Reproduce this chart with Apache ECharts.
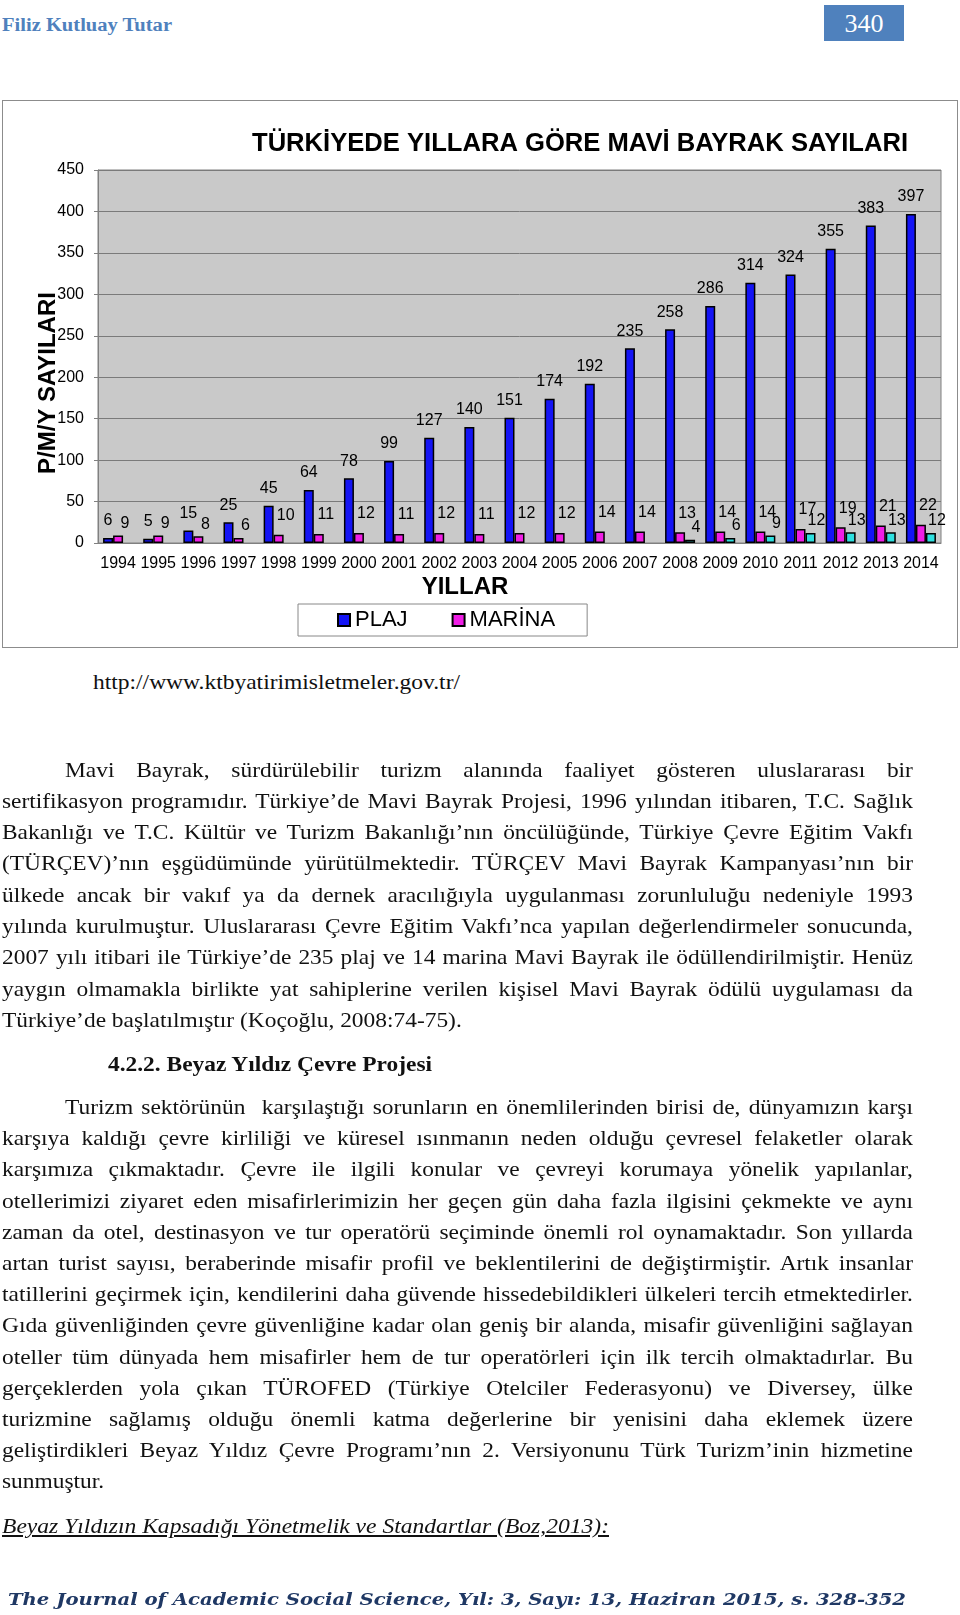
<!DOCTYPE html>
<html><head><meta charset="utf-8">
<script src="https://cdn.jsdelivr.net/npm/echarts@6/dist/echarts.min.js"></script>
<style>
html,body{margin:0;padding:0;background:#fff;}
body{width:960px;height:1615px;position:relative;overflow:hidden;}
.abs{position:absolute;white-space:nowrap;}
#hdr{left:2px;top:16px;font:bold 18.5px/18.5px 'Liberation Serif',serif;color:#4f81bd;}
#pg{left:824px;top:5px;width:80px;height:36px;background:#4f81bd;}
#pgt{position:absolute;left:0;top:0;width:80px;text-align:center;font:26px/37px 'Liberation Serif',serif;color:#fff;}
#chart{position:absolute;left:2px;top:100px;width:956px;height:548px;box-sizing:border-box;border:1px solid #8c8c8c;}
#body{position:absolute;left:2px;top:0;width:817px;height:1615px;transform:scaleX(1.115);transform-origin:0 0;font-family:'Liberation Serif',serif;font-size:21px;color:#111;}
.ln{position:absolute;left:0;width:817px;height:31px;line-height:31px;white-space:pre;text-align:justify;text-align-last:justify;}
.last{text-align-last:left;}
#head{font-weight:bold;}
#ital{left:2px;top:1516px;font:italic 21px/21px 'Liberation Serif',serif;color:#111;text-decoration:underline;}
#foot{left:8px;top:1591px;font:italic bold 17px/17px 'DejaVu Serif',serif;color:#1f3864;}
#url{left:93px;top:672px;font:21px/21px 'Liberation Serif',serif;color:#111;}
</style></head>
<body>
<div id="hdr" class="abs" data-fit="170">Filiz Kutluay Tutar</div>
<div id="pg" class="abs"><div id="pgt">340</div></div>
<div id="chart"></div>
<div id="url" class="abs" data-fit="367">http://www.ktbyatirimisletmeler.gov.tr/</div>
<div id="body"></div>
<div id="ital" class="abs" data-fit="607">Beyaz Yıldızın Kapsadığı Yönetmelik ve Standartlar (Boz,2013):</div>
<div id="foot" class="abs" data-fit="898">The Journal of Academic Social Science, Yıl: 3, Sayı: 13, Haziran 2015, s. 328-352</div>
<script>
// ---- chart data ----
const years = ['1994','1995','1996','1997','1998','1999','2000','2001','2002','2003','2004','2005','2006','2007','2008','2009','2010','2011','2012','2013','2014'];
const plaj = [6,5,15,25,45,64,78,99,127,140,151,174,192,235,258,286,314,324,355,383,397];
const marina = [9,9,8,6,10,11,12,11,12,11,12,12,14,14,13,14,14,17,19,21,22];
const yat = [null,null,null,null,null,null,null,null,null,null,null,null,null,null,4,6,9,12,13,13,12];
const yMin = 0, yMax = 450, yStep = 50;
const chartTitle = 'TÜRKİYEDE YILLARA GÖRE MAVİ BAYRAK SAYILARI';

// ---- page text ----
const p1Lines = [
 'Mavi Bayrak, sürdürülebilir turizm alanında faaliyet gösteren uluslararası bir',
 'sertifikasyon programıdır. Türkiye’de Mavi Bayrak Projesi, 1996 yılından itibaren, T.C. Sağlık',
 'Bakanlığı ve T.C. Kültür ve Turizm Bakanlığı’nın öncülüğünde, Türkiye Çevre Eğitim Vakfı',
 '(TÜRÇEV)’nın eşgüdümünde yürütülmektedir. TÜRÇEV Mavi Bayrak Kampanyası’nın bir',
 'ülkede ancak bir vakıf ya da dernek aracılığıyla uygulanması zorunluluğu nedeniyle 1993',
 'yılında kurulmuştur. Uluslararası Çevre Eğitim Vakfı’nca yapılan değerlendirmeler sonucunda,',
 '2007 yılı itibari ile Türkiye’de 235 plaj ve 14 marina Mavi Bayrak ile ödüllendirilmiştir. Henüz',
 'yaygın olmamakla birlikte yat sahiplerine verilen kişisel Mavi Bayrak ödülü uygulaması da',
 'Türkiye’de başlatılmıştır (Koçoğlu, 2008:74-75).'
];
const headText = '4.2.2. Beyaz Yıldız Çevre Projesi';
const p2Lines = [
 'Turizm sektörünün  karşılaştığı sorunların en önemlilerinden birisi de, dünyamızın karşı',
 'karşıya kaldığı çevre kirliliği ve küresel ısınmanın neden olduğu çevresel felaketler olarak',
 'karşımıza çıkmaktadır. Çevre ile ilgili konular ve çevreyi korumaya yönelik yapılanlar,',
 'otellerimizi ziyaret eden misafirlerimizin her geçen gün daha fazla ilgisini çekmekte ve aynı',
 'zaman da otel, destinasyon ve tur operatörü seçiminde önemli rol oynamaktadır. Son yıllarda',
 'artan turist sayısı, beraberinde misafir profil ve beklentilerini de değiştirmiştir. Artık insanlar',
 'tatillerini geçirmek için, kendilerini daha güvende hissedebildikleri ülkeleri tercih etmektedirler.',
 'Gıda güvenliğinden çevre güvenliğine kadar olan geniş bir alanda, misafir güvenliğini sağlayan',
 'oteller tüm dünyada hem misafirler hem de tur operatörleri için ilk tercih olmaktadırlar. Bu',
 'gerçeklerden yola çıkan TÜROFED (Türkiye Otelciler Federasyonu) ve Diversey, ülke',
 'turizmine sağlamış olduğu önemli katma değerlerine bir yenisini daha eklemek üzere',
 'geliştirdikleri Beyaz Yıldız Çevre Programı’nın 2. Versiyonunu Türk Turizm’inin hizmetine',
 'sunmuştur.'
];

(function buildText(){
  const body = document.getElementById('body');
  const S = 1.115, W = 817;
  function addPara(lines, firstTop, lh, indent){
    lines.forEach((t, i) => {
      const d = document.createElement('div');
      d.className = 'ln' + (i === lines.length - 1 ? ' last' : '');
      d.textContent = t;
      d.style.top = (firstTop + i * lh) + 'px';
      if (i === 0) { d.style.left = (indent / S) + 'px'; d.style.width = (W - indent / S) + 'px'; }
      body.appendChild(d);
    });
  }
  addPara(p1Lines, 754.5, 31.3, 63);
  const h = document.createElement('div');
  h.className = 'ln last'; h.id = 'head'; h.textContent = headText;
  h.style.top = '1049px'; h.style.left = (106 / S) + 'px'; h.style.width = '600px';
  body.appendChild(h);
  addPara(p2Lines, 1092, 31.2, 63);
  document.querySelectorAll('[data-fit]').forEach(el => {
    const w = el.getBoundingClientRect().width;
    const target = +el.getAttribute('data-fit');
    el.style.transformOrigin = '0 0';
    el.style.transform = 'scaleX(' + (target / w) + ')';
  });
})();

// ---- chart ----
const chart = echarts.init(document.getElementById('chart'), null, {renderer: 'canvas'});
const FONT = "'Liberation Sans', Arial, sans-serif";
const lbl = {show: true, position: 'top', fontSize: 16, color: '#000', fontFamily: FONT};
chart.setOption({
  animation: false,
  backgroundColor: '#fff',
  textStyle: {fontFamily: FONT},
  title: {text: chartTitle, left: 249, top: 30, padding: 0,
    textStyle: {fontSize: 25.6, fontWeight: 'bold', color: '#000', fontFamily: FONT}},
  legend: {data: ['PLAJ', 'MARİNA'], left: 295, top: 503, padding: [5, 32, 5, 39], itemGap: 44,
    itemWidth: 12, itemHeight: 12, icon: 'rect', borderColor: '#888', borderWidth: 1,
    textStyle: {fontSize: 22, color: '#000', fontFamily: FONT}},
  grid: {left: 95, top: 69, width: 843, height: 373, show: true, backgroundColor: '#c9c9c9',
    borderColor: '#808080', borderWidth: 1},
  xAxis: {type: 'category', data: years, name: 'YILLAR', nameLocation: 'middle', nameGap: 32,
    nameMoveOverlap: false,
    nameTextStyle: {fontSize: 24, fontWeight: 'bold', color: '#000', padding: [0, 109, 0, 0], fontFamily: FONT},
    axisLine: {lineStyle: {color: '#808080'}},
    axisTick: {length: 5, lineStyle: {color: '#808080'}},
    axisLabel: {fontSize: 16, color: '#000', margin: 13, interval: 0, fontFamily: FONT}},
  yAxis: {type: 'value', min: yMin, max: yMax, interval: yStep, name: 'P/M/Y SAYILARI',
    nameLocation: 'middle', nameGap: 38, nameMoveOverlap: false,
    nameTextStyle: {fontSize: 24, fontWeight: 'bold', color: '#000', padding: [0, 53, 0, 0], fontFamily: FONT},
    axisLine: {show: true, lineStyle: {color: '#808080'}},
    axisTick: {show: true, length: 4, lineStyle: {color: '#808080'}},
    axisLabel: {fontSize: 16, color: '#000', margin: 14, fontFamily: FONT},
    splitLine: {lineStyle: {color: '#7a7a7a', width: 1}}},
  series: [
    {name: 'PLAJ', type: 'bar', data: plaj, barWidth: 10, barGap: '0%',
      itemStyle: {color: '#1414f5', borderColor: '#000', borderWidth: 1.5},
      label: Object.assign({}, lbl, {distance: 9})},
    {name: 'MARİNA', type: 'bar', barWidth: 10, barGap: '0%',
      data: marina.map((v, i) => ({value: v, label: {distance: i < 4 ? 4 : 11}})),
      itemStyle: {color: '#f01ee6', borderColor: '#000', borderWidth: 1.5},
      label: Object.assign({}, lbl, {offset: [7, 0]})},
    {name: 'YAT', type: 'bar', data: yat, barWidth: 10, barGap: '0%',
      itemStyle: {color: '#2ee0e0', borderColor: '#000', borderWidth: 1.5},
      label: Object.assign({}, lbl, {distance: 4, offset: [6, 0]})}
  ]
});
</script>
</body></html>
